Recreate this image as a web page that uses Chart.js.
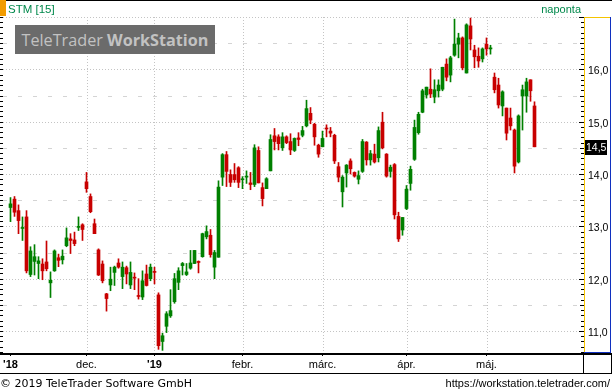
<!DOCTYPE html>
<html>
<head>
<meta charset="utf-8">
<script src="https://cdn.jsdelivr.net/npm/chart.js@4.4.0/dist/chart.umd.min.js"></script>
<style>
  html, body { margin: 0; padding: 0; background: #fff; }
  #wrap { position: relative; width: 612px; height: 392px; overflow: hidden; }
  #chart { position: absolute; left: 0; top: 0; }
  .txt { position: absolute; white-space: nowrap; line-height: 13px; }
  #mark { position: absolute; left: 15px; top: 25px; width: 200px; height: 29px; background: #6b6b6b; color: #c2c2c2;
          font-family: 'Open Sans'; font-size: 16.2px; display: flex; align-items: center; justify-content: center; }
</style>
</head>
<body>
<div id="wrap">
  <canvas id="chart" width="612" height="392"></canvas>
  <div style="position:absolute;left:0;top:0;width:6px;height:16px;background:#f29c00"></div>
  <div class="txt" style="left:8px;top:3px;font-family:'Liberation Sans';font-size:11.5px;color:#00884b">STM [15]</div>
  <div class="txt" style="right:31px;top:3px;font-family:'Liberation Sans';font-size:11px;color:#00884b">naponta</div>
  <div id="mark">TeleTrader&nbsp;<b>WorkStation</b></div>
  <div class="txt" style="left:0;top:377px;font-family:'DejaVu Sans';font-size:11px;color:#000">© 2019 TeleTrader Software GmbH</div>
  <div class="txt" style="right:2px;top:377px;font-family:'Liberation Sans';font-size:11px;color:#000">https://workstation.teletrader.com/</div>
</div>
<script>
// napi gyertyák (STM), régi -> új
const open = [13.36,13.52,13.30,12.96,13.18,12.08,12.33,12.29,12.28,12.32,
  11.92,12.15,12.40,12.36,12.63,12.76,12.74,12.98,13.03,13.85,
  13.57,13.05,12.55,12.28,11.71,11.88,12.12,12.30,12.04,12.21,
  11.88,12.02,11.67,11.65,12.09,12.00,12.13,11.69,10.80,11.09,
  11.29,11.56,11.93,12.25,12.08,12.20,12.29,12.32,12.42,12.80,
  12.83,12.22,12.41,13.94,14.37,13.99,13.99,14.12,13.89,13.94,
  13.83,13.80,14.45,13.74,13.72,14.06,14.73,14.71,14.50,14.71,
  14.62,14.45,14.69,14.74,14.92,15.16,14.95,14.55,14.52,14.87,
  14.82,14.74,14.14,13.66,14.02,14.25,14.03,13.90,14.05,14.61,
  14.27,14.38,14.31,14.99,14.38,14.05,14.18,13.19,12.93,13.34,
  13.82,14.28,14.79,15.18,15.51,15.62,15.47,15.59,15.62,16.10,
  15.89,16.27,16.48,16.60,15.93,16.83,16.37,16.25,16.20,16.48,
  16.39,15.85,15.70,15.30,15.26,15.07,14.84,14.23,15.49,15.49,
  15.80,15.30];
const high = [13.55,13.57,13.41,13.18,13.30,12.61,12.65,12.42,12.38,12.72,
  12.13,12.55,12.47,12.55,12.97,12.86,12.89,13.18,13.05,14.03,
  13.62,13.14,12.57,12.34,11.72,12.22,12.24,12.38,12.32,12.24,
  12.32,12.11,12.00,12.15,12.26,12.28,12.22,11.73,10.96,11.37,
  11.79,12.10,12.21,12.31,12.29,12.54,12.54,12.34,12.87,13.01,
  12.94,12.54,13.87,14.39,14.43,14.08,14.20,14.14,13.95,14.06,
  14.03,14.56,14.52,13.83,13.93,14.75,14.87,14.75,14.79,14.73,
  14.77,14.69,14.79,14.91,15.41,15.27,14.97,14.57,14.82,14.94,
  14.89,14.76,14.22,13.97,14.18,14.29,14.04,14.06,14.66,14.62,
  14.45,14.57,14.90,15.18,14.39,14.17,14.20,13.27,13.17,13.78,
  14.15,15.03,15.18,15.62,15.66,16.01,15.80,15.80,16.04,16.20,
  16.25,16.96,16.69,16.62,16.87,16.98,16.46,16.41,16.41,16.60,
  16.46,15.93,15.83,15.59,15.26,15.26,14.86,15.13,15.70,15.83,
  15.80,15.38];
const low = [13.09,13.19,12.86,12.73,12.11,12.04,12.07,12.00,11.98,12.15,
  11.64,12.14,12.23,12.28,12.61,12.48,12.63,12.92,12.73,13.65,
  13.26,12.86,12.06,11.92,11.38,11.77,11.87,12.20,11.81,11.90,
  11.81,11.79,11.61,11.60,11.86,11.96,11.90,10.65,10.63,10.97,
  11.26,11.53,11.79,12.07,12.06,12.18,12.29,12.11,12.41,12.76,
  12.41,12.00,12.41,13.78,13.76,13.76,13.84,13.74,13.72,13.82,
  13.70,13.76,13.83,13.39,13.72,14.06,14.46,14.46,14.45,14.58,
  14.37,14.43,14.54,14.71,14.90,14.96,14.55,14.32,14.52,14.71,
  14.71,14.20,13.85,13.37,13.75,14.00,13.94,13.81,14.03,14.17,
  14.17,14.21,14.23,14.48,13.94,13.94,13.14,12.71,12.83,13.32,
  13.69,14.26,14.76,15.17,15.45,15.46,15.36,15.47,15.59,15.78,
  15.76,16.25,16.22,15.99,15.93,16.37,16.03,16.04,16.14,16.27,
  16.29,15.55,15.26,15.11,14.65,14.84,14.02,14.21,14.84,15.18,
  15.39,14.52];
const close = [13.43,13.27,13.11,12.97,12.15,12.53,12.42,12.34,12.15,12.19,
  11.97,12.53,12.35,12.43,12.78,12.73,12.67,12.99,12.94,13.72,
  13.28,12.86,12.07,11.96,11.62,11.99,12.22,12.22,12.22,12.09,
  12.12,12.01,11.66,11.96,11.87,12.22,12.12,10.72,10.91,11.33,
  11.39,12.00,12.15,12.29,12.13,12.30,12.54,12.31,12.86,12.90,
  12.46,12.50,13.75,14.37,14.05,13.84,13.89,13.84,13.90,13.96,
  13.80,14.50,13.83,13.53,13.91,14.66,14.62,14.58,14.71,14.60,
  14.46,14.68,14.66,14.83,15.25,15.03,14.71,14.38,14.68,14.86,
  14.78,14.25,13.94,13.94,14.17,14.10,13.96,13.97,14.62,14.27,
  14.39,14.23,14.83,14.50,13.96,14.13,13.22,12.76,13.17,13.71,
  14.09,14.89,15.14,15.59,15.66,15.53,15.61,15.70,16.04,15.85,
  16.22,16.48,16.60,16.03,16.85,16.58,16.24,16.16,16.39,16.39,
  16.41,15.61,15.32,15.57,14.78,14.92,14.15,15.11,15.61,15.76,
  15.59,14.52];

// hónapok első kereskedési napja (gyertya sorszám) és felirata
const monthIdx = [0, 19, 36, 58, 78, 99, 119];
const monthLabels = ["'18", 'dec.', "'19", 'febr.', 'márc.', 'ápr.', 'máj.'];
const priceTicks = [11, 12, 13, 14, 15, 16];

const UP = '#008000';
const DOWN = '#c80000';
const colors = close.map((c, i) => c >= open[i] ? UP : DOWN);
const fmt = v => v.toFixed(1).replace('.', ',');

const decor = {
  id: 'decor',
  beforeDraw(chart) {
    const c = chart.ctx;
    c.save();
    c.fillStyle = '#fff';
    c.fillRect(0, 0, chart.width, chart.height);
    c.restore();
  },
  beforeDatasetsDraw(chart) {
    const c = chart.ctx, a = chart.chartArea, x = chart.scales.x, y = chart.scales.y;
    c.save();
    c.lineWidth = 1;
    // vízszintes rács: egész = pontozott, fél = szaggatott
    for (let k = 22; k <= 34; k++) {
      const py = Math.round(y.getPixelForValue(k / 2)) + 0.5;
      if (k % 2 === 0) { c.setLineDash([1, 2]); c.lineDashOffset = 0; c.strokeStyle = '#c4c4c4'; }
      else { c.setLineDash([4, 11]); c.lineDashOffset = -3; c.strokeStyle = '#d4d4d4'; }
      c.beginPath(); c.moveTo(a.left, py); c.lineTo(a.right, py); c.stroke();
    }
    // függőleges rács a hónapoknál
    c.setLineDash([1, 2]); c.lineDashOffset = 0; c.strokeStyle = '#c4c4c4';
    monthIdx.slice(1).forEach(m => {
      const px = Math.round(x.getPixelForValue(m)) + 0.5;
      c.beginPath(); c.moveTo(px, a.top); c.lineTo(px, a.bottom); c.stroke();
    });
    c.restore();
  },
  afterDraw(chart) {
    const c = chart.ctx, a = chart.chartArea, y = chart.scales.y;
    c.save();
    c.fillStyle = '#000';
    // kis osztások bal és jobb oldalon
    for (let k = 106; k <= 170; k++) {
      const py = Math.round(y.getPixelForValue(k / 10));
      c.fillRect(0, py, 3, 1);
      const len = k % 10 === 0 ? 5 : (k % 5 === 0 ? 4 : 3);
      c.fillRect(a.right - len, py, len, 1);
    }
    // keretek
    c.fillRect(0, 0, chart.width, 1);
    c.fillRect(0, 353, chart.width, 2);
    c.fillRect(0, 373, chart.width, 1);
    c.fillRect(583, 355, 1, 18);
    c.fillRect(611, 353, 1, 21);
    c.fillStyle = '#f5c400';
    c.fillRect(584, 17, 1, 336);
    c.fillRect(584, 17, 27, 1);
    c.fillStyle = '#1030c0';
    c.fillRect(610, 17, 1, 336);
    c.fillRect(584, 352, 27, 1);
    // utolsó ár címke
    const last = close[close.length - 1];
    const py = Math.round(y.getPixelForValue(last));
    c.fillStyle = '#000';
    c.fillRect(585, py - 7, 22, 15);
    c.fillStyle = '#fff';
    c.font = "10.5px 'Liberation Sans'";
    c.textBaseline = 'middle';
    c.textAlign = 'left';
    c.fillText(fmt(last), 586, py + 1);
    c.restore();
  }
};

const idx = close.map((_, i) => i);

new Chart(document.getElementById('chart'), {
  type: 'bar',
  data: {
    datasets: [
      {
        label: 'test',
        data: idx.map(i => ({ x: i, y: [open[i], close[i]] })),
        backgroundColor: colors,
        barThickness: 3,
        minBarLength: 1,
        grouped: false
      },
      {
        label: 'kanóc',
        data: idx.map(i => ({ x: i, y: [low[i], high[i]] })),
        backgroundColor: colors,
        barThickness: 1,
        grouped: false
      }
    ]
  },
  options: {
    responsive: false,
    devicePixelRatio: 1,
    animation: false,
    layout: { padding: { top: 17, bottom: 19, left: 0, right: 0 } },
    plugins: { legend: { display: false }, tooltip: { enabled: false } },
    scales: {
      x: {
        type: 'linear',
        offset: false,
        min: -2.625,
        max: 143.375,
        afterBuildTicks: s => { s.ticks = monthIdx.map(v => ({ value: v })); },
        afterFit: s => { s.height = 20; },
        grid: { offset: false, drawOnChartArea: false, drawTicks: true, tickLength: 3, tickColor: '#000' },
        border: { display: false },
        ticks: {
          autoSkip: false,
          maxRotation: 0,
          padding: 2,
          color: '#000',
          font: ctx => ({ family: 'Liberation Sans', size: 11,
            weight: String(ctx.tick && ctx.tick.label).startsWith("'") ? 'bold' : 'normal' }),
          callback: v => monthLabels[monthIdx.indexOf(v)]
        }
      },
      y: {
        type: 'linear',
        position: 'right',
        min: 10.58,
        max: 17,
        afterBuildTicks: s => { s.ticks = priceTicks.map(v => ({ value: v })); },
        afterFit: s => { s.width = 28; },
        grid: { display: false, drawTicks: false },
        border: { display: false },
        ticks: {
          autoSkip: false,
          padding: 4,
          labelOffset: 2,
          color: '#000',
          font: { family: 'Liberation Sans', size: 10.5 },
          callback: v => fmt(v)
        }
      }
    }
  },
  plugins: [decor]
});
</script>
</body>
</html>
